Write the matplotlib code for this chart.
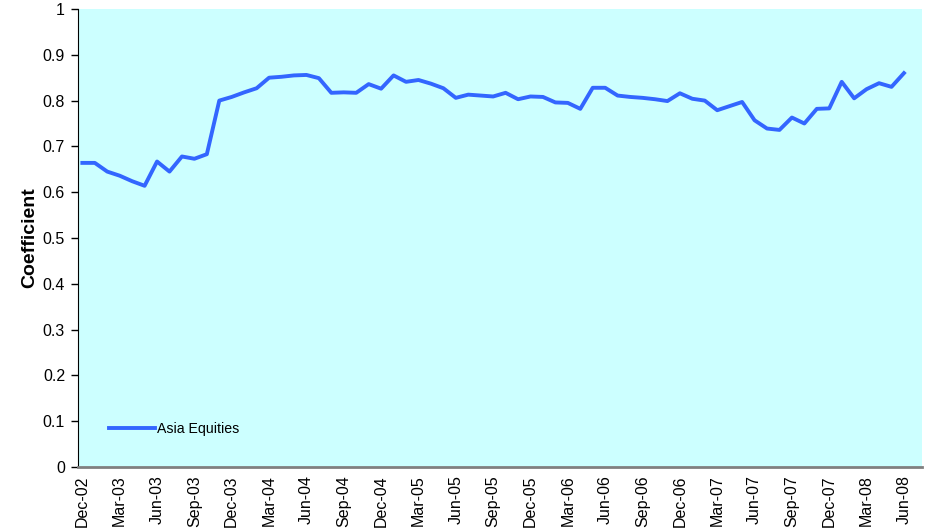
import matplotlib
matplotlib.use("Agg")
import matplotlib.pyplot as plt

plt.rcParams['font.family'] = ['Liberation Sans', 'DejaVu Sans']

series_name = "Asia Equities"
values = [0.664, 0.664, 0.645, 0.636, 0.624, 0.614, 0.667, 0.645, 0.678, 0.673,
          0.683, 0.800, 0.808, 0.818, 0.827, 0.850, 0.852, 0.855, 0.856, 0.849,
          0.817, 0.818, 0.817, 0.836, 0.826, 0.855, 0.841, 0.845, 0.837, 0.827,
          0.806, 0.813, 0.811, 0.809, 0.817, 0.803, 0.809, 0.808, 0.796, 0.795,
          0.782, 0.828, 0.828, 0.811, 0.808, 0.806, 0.803, 0.799, 0.816, 0.804,
          0.800, 0.779, 0.788, 0.797, 0.757, 0.739, 0.736, 0.763, 0.750, 0.782,
          0.783, 0.841, 0.805, 0.825, 0.838, 0.830, 0.860]
tick_labels = ["Dec-02", "Mar-03", "Jun-03", "Sep-03", "Dec-03", "Mar-04", "Jun-04",
               "Sep-04", "Dec-04", "Mar-05", "Jun-05", "Sep-05", "Dec-05", "Mar-06",
               "Jun-06", "Sep-06", "Dec-06", "Mar-07", "Jun-07", "Sep-07", "Dec-07",
               "Mar-08", "Jun-08"]
y_ticks = [0, 0.1, 0.2, 0.3, 0.4, 0.5, 0.6, 0.7, 0.8, 0.9, 1]
y_tick_labels = ["0", "0.1", "0.2", "0.3", "0.4", "0.5", "0.6", "0.7", "0.8", "0.9", "1"]

W, H = 929, 532
fig = plt.figure(figsize=(W / 100, H / 100), dpi=100)
l, r, t, b = 77.5, 922, 9, 467
ax = fig.add_axes([l / W, (H - b) / H, (r - l) / W, (b - t) / H])
ax.set_facecolor("#CCFFFF")

x = list(range(len(values)))
ax.plot(x, values, color="#3366FF", lw=2.8, label=series_name, solid_joinstyle='round')

ax.set_xlim(-0.39, 67.45)
ax.set_ylim(0, 1)
ax.set_yticks(y_ticks)
ax.set_yticklabels(y_tick_labels, fontsize=11.5)
ax.set_xticks(list(range(0, len(values), 3)))
ax.set_xticklabels(tick_labels, rotation=90, fontsize=11.5)
ax.tick_params(axis='x', length=0, pad=6)
ax.tick_params(axis='y', length=5, width=1, direction='out', pad=4)

for s in ['top', 'right']:
    ax.spines[s].set_visible(False)
ax.spines['left'].set_color('black')
ax.spines['bottom'].set_color('#808080')
ax.spines['bottom'].set_linewidth(2)

ax.set_ylabel("Coefficient", fontsize=14, fontweight='bold', labelpad=3)

leg = ax.legend(loc='center left', bbox_to_anchor=((109 - l) / (r - l), (b - 429) / (b - t)),
                frameon=False, fontsize=10.2, handlelength=3.25, handletextpad=0.12,
                borderpad=0, borderaxespad=0)

fig.savefig("out.png", dpi=100)
